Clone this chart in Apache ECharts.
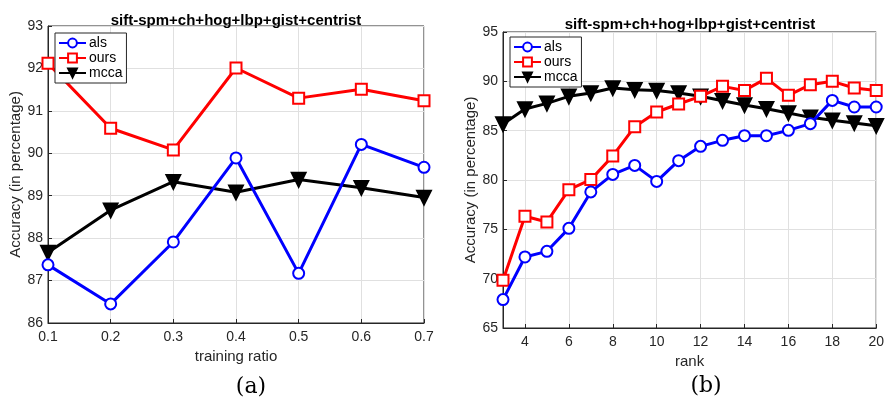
<!DOCTYPE html>
<html lang="en">
<head>
    <meta charset="utf-8">
    <title>accuracy</title>
    <script src="https://cdn.jsdelivr.net/npm/echarts@6/dist/echarts.min.js"></script>
    <style>
        body { margin: 0; background: #fff; }
        #container { width: 887px; height: 400px; }
    </style>
</head>
<body>
<div id="container"></div>
<script>
    // (a) training ratio
    const ratios = [0.1, 0.2, 0.3, 0.4, 0.5, 0.6, 0.7];
    const alsA = [87.37, 86.45, 87.91, 89.89, 87.17, 90.21, 89.67];
    const oursA = [92.12, 90.59, 90.08, 92.01, 91.30, 91.51, 91.24];
    const mccaA = [87.66, 88.66, 89.33, 89.08, 89.38, 89.19, 88.96];

    // (b) rank
    const ranks = [3, 4, 5, 6, 7, 8, 9, 10, 11, 12, 13, 14, 15, 16, 17, 18, 19, 20];
    const alsB = [67.88, 72.2, 72.77, 75.1, 78.79, 80.57, 81.48, 79.86, 81.96, 83.41,
        84.02, 84.49, 84.49, 85.03, 85.71, 88.07, 87.4, 87.4];
    const oursB = [69.83, 76.32, 75.75, 79.02, 80.04, 82.44, 85.4, 86.89, 87.7, 88.48,
        89.49, 89.08, 90.3, 88.58, 89.66, 90.0, 89.33, 89.08];
    const mccaB = [85.68, 87.2, 87.77, 88.48, 88.82, 89.33, 89.15, 89.08, 88.82, 88.48,
        88.04, 87.6, 87.23, 86.8, 86.35, 86.05, 85.78, 85.5];

    const ratioTicks = [0.1, 0.2, 0.3, 0.4, 0.5, 0.6, 0.7];
    const rankTicks = [4, 6, 8, 10, 12, 14, 16, 18, 20];

    const font = "Liberation Sans";
    const ink = "#262626";

    function zip(xs, ys) {
        return xs.map((x, i) => [x, ys[i]]);
    }

    function makeSeries(name, xs, ys, idx) {
        const styles = {
            als: { color: "#0000ff", symbol: "emptyCircle", size: 11, rotate: 0 },
            ours: { color: "#ff0000", symbol: "emptyRect", size: 11, rotate: 0 },
            mcca: { color: "#000000", symbol: "triangle", size: 13, rotate: 180 }
        };
        const s = styles[name];
        return {
            name: name,
            type: "line",
            xAxisIndex: idx,
            yAxisIndex: idx,
            data: zip(xs, ys),
            symbol: s.symbol,
            symbolSize: s.size,
            symbolRotate: s.rotate,
            lineStyle: { color: s.color, width: 3 },
            itemStyle: { color: s.color, borderColor: s.color, borderWidth: 2.5 },
            animation: false,
            z: name === "als" ? 4 : (name === "ours" ? 3 : 2)
        };
    }

    function xAxis(idx, min, max, ticks, name, gap) {
        return {
            gridIndex: idx,
            type: "value",
            min: min,
            max: max,
            name: name,
            nameLocation: "middle",
            nameGap: gap,
            nameTextStyle: { fontFamily: font, fontSize: 15, color: ink },
            axisLine: { lineStyle: { color: ink } },
            axisTick: { inside: true, length: 4, customValues: ticks, lineStyle: { color: ink } },
            axisLabel: { customValues: ticks, fontFamily: font, fontSize: 14, color: ink, margin: 7 },
            splitLine: { show: true, lineStyle: { color: "#e0e0e0" } }
        };
    }

    function yAxis(idx, min, max, interval, gap) {
        return {
            gridIndex: idx,
            type: "value",
            min: min,
            max: max,
            interval: interval,
            name: "Accuracy (in percentage)",
            nameLocation: "middle",
            nameGap: gap,
            nameTextStyle: { fontFamily: font, fontSize: 15, color: ink },
            axisLine: { show: true, lineStyle: { color: ink } },
            axisTick: { inside: true, length: 4, lineStyle: { color: ink } },
            axisLabel: { fontFamily: font, fontSize: 14, color: ink, margin: 5 },
            splitLine: { show: true, lineStyle: { color: "#e0e0e0" } }
        };
    }

    function legend(left, top) {
        return {
            orient: "vertical",
            left: left,
            top: top,
            data: ["als", "ours", "mcca"],
            backgroundColor: "#fff",
            borderColor: ink,
            borderWidth: 1,
            padding: [3, 4, 3, 3],
            itemGap: 1,
            itemWidth: 27,
            itemHeight: 11,
            selectedMode: false,
            textStyle: { fontFamily: font, fontSize: 14, lineHeight: 14, color: "#000", padding: [0, 0, 0, -2] }
        };
    }

    const option = {
        backgroundColor: "#fff",
        animation: false,
        title: [
            { text: "sift-spm+ch+hog+lbp+gist+centrist", left: 231, top: 8, textAlign: "center",
                textStyle: { fontFamily: font, fontSize: 15, fontWeight: "bold", color: "#000" } },
            { text: "sift-spm+ch+hog+lbp+gist+centrist", left: 685, top: 12, textAlign: "center",
                textStyle: { fontFamily: font, fontSize: 15, fontWeight: "bold", color: "#000" } },
            { text: "(a)", left: 246, top: 371, textAlign: "center",
                textStyle: { fontFamily: "DejaVu Serif", fontSize: 22, fontWeight: "normal", color: "#000" } },
            { text: "(b)", left: 701, top: 370, textAlign: "center",
                textStyle: { fontFamily: "DejaVu Serif", fontSize: 22, fontWeight: "normal", color: "#000" } }
        ],
        legend: [legend(55, 33), legend(510, 37)],
        grid: [
            { left: 48, right: 463, top: 26, bottom: 77, show: true, borderColor: ink, borderWidth: 1 },
            { left: 503, right: 7, top: 32, bottom: 72, show: true, borderColor: ink, borderWidth: 1 }
        ],
        xAxis: [
            xAxis(0, 0.1, 0.7, ratioTicks, "training ratio", 24),
            xAxis(1, 3, 20, rankTicks, "rank", 25)
        ],
        yAxis: [
            yAxis(0, 86, 93, 1, 20),
            yAxis(1, 65, 95, 5, 21)
        ],
        series: [
            makeSeries("als", ratios, alsA, 0),
            makeSeries("ours", ratios, oursA, 0),
            makeSeries("mcca", ratios, mccaA, 0),
            makeSeries("als", ranks, alsB, 1),
            makeSeries("ours", ranks, oursB, 1),
            makeSeries("mcca", ranks, mccaB, 1)
        ]
    };

    const chart = echarts.init(document.getElementById("container"));
    chart.setOption(option);
</script>
</body>
</html>
